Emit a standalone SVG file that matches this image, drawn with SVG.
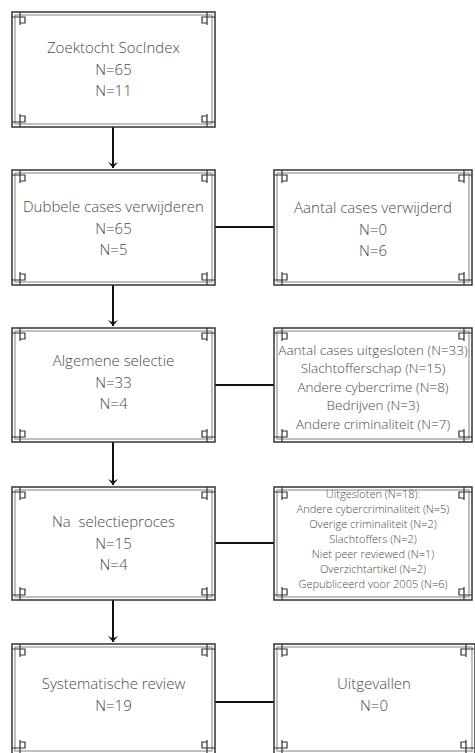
<svg xmlns="http://www.w3.org/2000/svg" xmlns:xlink="http://www.w3.org/1999/xlink" width="475" height="753" viewBox="0 0 475 753">
<defs>
<style>
.o{fill:#fff;stroke:#333;stroke-width:1.5}
.i{fill:none;stroke:#aaa;stroke-width:1.5}
.c{fill:none;stroke:#333;stroke-width:1.2}
.t{font-family:"Open Sans","Liberation Sans",sans-serif;font-weight:300;fill:#4a4a4a;text-anchor:middle}
.m{font-size:15px}
.s{font-size:13.5px}
.x{font-size:11px}
.ln{fill:none;stroke:#111;stroke-width:2}
</style>
<g id="corner"><path class="c" d="M8 0V13M0 5H13M8 5H13V11H8Z"/></g>
<marker id="ah" markerWidth="12" markerHeight="12" refX="6" refY="6" orient="auto" markerUnits="userSpaceOnUse">
<path d="M0 1L6 6L0 11L2.5 6Z" fill="#111"/>
</marker>
</defs>
<g id="connectors">
<line class="ln" x1="113" y1="127" x2="113" y2="168" marker-end="url(#ah)"/>
<line class="ln" x1="113" y1="285" x2="113" y2="326" marker-end="url(#ah)"/>
<line class="ln" x1="113" y1="442" x2="113" y2="485" marker-end="url(#ah)"/>
<line class="ln" x1="113" y1="600" x2="113" y2="642" marker-end="url(#ah)"/>
<line class="ln" x1="215" y1="227" x2="274" y2="227"/>
<line class="ln" x1="215" y1="385" x2="274" y2="385"/>
<line class="ln" x1="215" y1="543" x2="274" y2="543"/>
<line class="ln" x1="215" y1="702" x2="274" y2="702"/>
</g>
<g id="n1">
<rect class="o" x="12" y="12" width="203" height="115"/><rect class="i" x="15" y="15" width="197" height="109"/>
<use xlink:href="#corner" transform="translate(12,12)"/><use xlink:href="#corner" transform="translate(215,12) scale(-1,1)"/>
<use xlink:href="#corner" transform="translate(12,127) scale(1,-1)"/><use xlink:href="#corner" transform="translate(215,127) scale(-1,-1)"/>
<text class="t m" x="113.5" y="53">Zoektocht SocIndex</text>
<text class="t m" x="113.5" y="75">N=65</text>
<text class="t m" x="113.5" y="96">N=11</text>
</g>
<g id="n2">
<rect class="o" x="12" y="170" width="203" height="115"/><rect class="i" x="15" y="173" width="197" height="109"/>
<use xlink:href="#corner" transform="translate(12,170)"/><use xlink:href="#corner" transform="translate(215,170) scale(-1,1)"/>
<use xlink:href="#corner" transform="translate(12,285) scale(1,-1)"/><use xlink:href="#corner" transform="translate(215,285) scale(-1,-1)"/>
<text class="t m" x="113.5" y="212">Dubbele cases verwijderen</text>
<text class="t m" x="113.5" y="234">N=65</text>
<text class="t m" x="113.5" y="255">N=5</text>
</g>
<g id="n2r">
<rect class="o" x="274" y="170" width="198" height="115"/><rect class="i" x="277" y="173" width="192" height="109"/>
<use xlink:href="#corner" transform="translate(274,170)"/><use xlink:href="#corner" transform="translate(472,170) scale(-1,1)"/>
<use xlink:href="#corner" transform="translate(274,285) scale(1,-1)"/><use xlink:href="#corner" transform="translate(472,285) scale(-1,-1)"/>
<text class="t m" x="373" y="213">Aantal cases verwijderd</text>
<text class="t m" x="373" y="235">N=0</text>
<text class="t m" x="373" y="256">N=6</text>
</g>
<g id="n3">
<rect class="o" x="12" y="328" width="203" height="114"/><rect class="i" x="15" y="331" width="197" height="108"/>
<use xlink:href="#corner" transform="translate(12,328)"/><use xlink:href="#corner" transform="translate(215,328) scale(-1,1)"/>
<use xlink:href="#corner" transform="translate(12,442) scale(1,-1)"/><use xlink:href="#corner" transform="translate(215,442) scale(-1,-1)"/>
<text class="t m" x="113.5" y="366">Algemene selectie</text>
<text class="t m" x="113.5" y="388">N=33</text>
<text class="t m" x="113.5" y="409">N=4</text>
</g>
<g id="n3r">
<rect class="o" x="274" y="328" width="198" height="114"/><rect class="i" x="277" y="331" width="192" height="108"/>
<use xlink:href="#corner" transform="translate(274,328)"/><use xlink:href="#corner" transform="translate(472,328) scale(-1,1)"/>
<use xlink:href="#corner" transform="translate(274,442) scale(1,-1)"/><use xlink:href="#corner" transform="translate(472,442) scale(-1,-1)"/>
<text class="t s" x="373" y="355">Aantal cases uitgesloten (N=33)</text>
<text class="t s" x="373" y="373">Slachtofferschap (N=15)</text>
<text class="t s" x="373" y="392">Andere cybercrime (N=8)</text>
<text class="t s" x="373" y="410">Bedrijven (N=3)</text>
<text class="t s" x="373" y="429">Andere criminaliteit (N=7)</text>
</g>
<g id="n4">
<rect class="o" x="12" y="487" width="203" height="113"/><rect class="i" x="15" y="490" width="197" height="107"/>
<use xlink:href="#corner" transform="translate(12,487)"/><use xlink:href="#corner" transform="translate(215,487) scale(-1,1)"/>
<use xlink:href="#corner" transform="translate(12,600) scale(1,-1)"/><use xlink:href="#corner" transform="translate(215,600) scale(-1,-1)"/>
<text class="t m" x="113.5" y="527" xml:space="preserve">Na  selectieproces</text>
<text class="t m" x="113.5" y="549">N=15</text>
<text class="t m" x="113.5" y="570">N=4</text>
</g>
<g id="n4r">
<rect class="o" x="274" y="487" width="198" height="113"/><rect class="i" x="277" y="490" width="192" height="107"/>
<use xlink:href="#corner" transform="translate(274,487)"/><use xlink:href="#corner" transform="translate(472,487) scale(-1,1)"/>
<use xlink:href="#corner" transform="translate(274,600) scale(1,-1)"/><use xlink:href="#corner" transform="translate(472,600) scale(-1,-1)"/>
<text class="t x" x="373" y="498">Uitgesloten (N=18):</text>
<text class="t x" x="373" y="513">Andere cybercriminaliteit (N=5)</text>
<text class="t x" x="373" y="528">Overige criminaliteit (N=2)</text>
<text class="t x" x="373" y="543">Slachtoffers (N=2)</text>
<text class="t x" x="373" y="558">Niet peer reviewed (N=1)</text>
<text class="t x" x="373" y="573">Overzichtartikel (N=2)</text>
<text class="t x" x="373" y="588">Gepubliceerd voor 2005 (N=6)</text>
</g>
<g id="n5">
<rect class="o" x="12" y="644" width="203" height="110"/><rect class="i" x="15" y="647" width="197" height="104"/>
<use xlink:href="#corner" transform="translate(12,644)"/><use xlink:href="#corner" transform="translate(215,644) scale(-1,1)"/>
<use xlink:href="#corner" transform="translate(12,753) scale(1,-1)"/><use xlink:href="#corner" transform="translate(215,753) scale(-1,-1)"/>
<text class="t m" x="113.5" y="689">Systematische review</text>
<text class="t m" x="113.5" y="711">N=19</text>
</g>
<g id="n5r">
<rect class="o" x="274" y="644" width="201" height="110"/><rect class="i" x="277" y="647" width="195" height="104"/>
<use xlink:href="#corner" transform="translate(274,644)"/><use xlink:href="#corner" transform="translate(474,644) scale(-1,1)"/>
<use xlink:href="#corner" transform="translate(274,753) scale(1,-1)"/><use xlink:href="#corner" transform="translate(474,753) scale(-1,-1)"/>
<text class="t m" x="374" y="689">Uitgevallen</text>
<text class="t m" x="374" y="711">N=0</text>
</g>
</svg>
